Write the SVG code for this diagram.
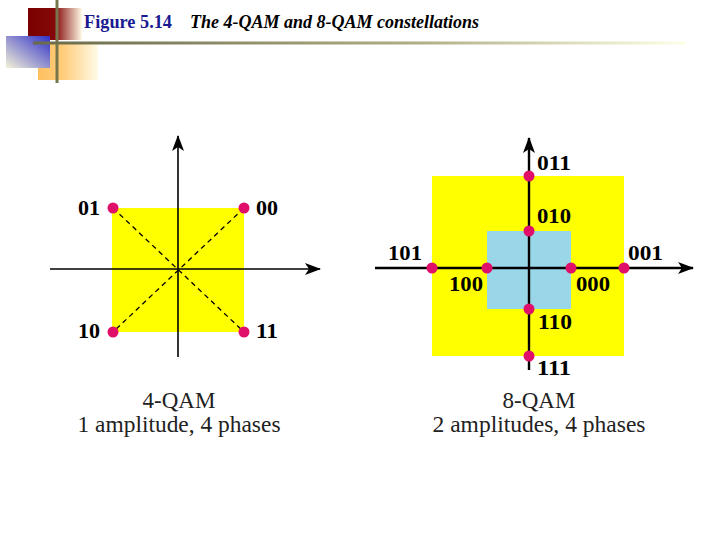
<svg xmlns="http://www.w3.org/2000/svg" width="720" height="540" viewBox="0 0 720 540">
<defs>
<linearGradient id="gRed" x1="0" y1="0" x2="1" y2="0">
<stop offset="0" stop-color="#7A0000"/><stop offset="0.5" stop-color="#840808"/><stop offset="1" stop-color="#FFFBE6"/>
</linearGradient>
<linearGradient id="gBlue" x1="0" y1="1" x2="1" y2="0">
<stop offset="0" stop-color="#F4F2D8"/><stop offset="1" stop-color="#3030C8"/>
</linearGradient>
<linearGradient id="gOrange" x1="0" y1="0" x2="1" y2="0">
<stop offset="0" stop-color="#FFC060"/><stop offset="0.4" stop-color="#FFCC78"/><stop offset="1" stop-color="#FFFBE8"/>
</linearGradient>
<linearGradient id="gLine" x1="0" y1="0" x2="1" y2="0">
<stop offset="0" stop-color="#6A6A48"/><stop offset="0.6" stop-color="#B0B088"/><stop offset="1" stop-color="#FFFFE6"/>
</linearGradient>
<marker id="arr" viewBox="0 0 16 12" refX="15" refY="6" markerWidth="16" markerHeight="12" markerUnits="userSpaceOnUse" orient="auto">
<path d="M0,0 L16,6 L0,12 L4,6 Z" fill="#000"/>
</marker>
<style>
.ax{stroke:#000;stroke-width:1.6;fill:none}
.ax2{stroke:#000;stroke-width:2.4;fill:none}
.dash{stroke:#000;stroke-width:1.3;stroke-dasharray:5,4;fill:none}
.pt{fill:#E0106A}
.lbl{font-family:"Liberation Serif","Times New Roman",serif;font-weight:bold;font-size:21px;fill:#000}
.cap{font-family:"Liberation Serif","Times New Roman",serif;font-size:23px;fill:#222;text-anchor:middle}
.fig{font-family:"Liberation Serif","Times New Roman",serif;font-weight:bold;font-size:19px;fill:#1A1A90}
.ttl{font-family:"Liberation Serif","Times New Roman",serif;font-weight:bold;font-style:italic;font-size:19px;fill:#000}
</style>
</defs>
<rect width="720" height="540" fill="#fff"/>
<g id="header">
<rect x="28" y="8" width="54" height="32" fill="url(#gRed)"/>
<rect x="38" y="42" width="60" height="38" fill="url(#gOrange)"/>
<rect x="6" y="36" width="44" height="32" fill="url(#gBlue)"/>
<line x1="57" y1="0" x2="57" y2="83" stroke="#76764C" stroke-width="3"/>
<rect x="33" y="41.5" width="652" height="3" fill="url(#gLine)"/>
<text class="fig" x="84" y="28" textLength="88" lengthAdjust="spacingAndGlyphs">Figure 5.14</text>
<text class="ttl" x="190" y="28" textLength="289" lengthAdjust="spacingAndGlyphs">The 4-QAM and 8-QAM constellations</text>
</g>
<g id="qam4">
<rect x="112" y="208" width="132" height="124" fill="#FFFF00"/>
<g id="connectors4">
<line class="dash" x1="113" y1="208" x2="244" y2="332"/>
<line class="dash" x1="244" y1="208" x2="113" y2="332"/>
<line class="ax" x1="50" y1="269" x2="320" y2="269" marker-end="url(#arr)"/>
<line class="ax" x1="178" y1="357" x2="178" y2="136" marker-end="url(#arr)"/>
</g>
<g id="p01"><circle class="pt" cx="113" cy="208" r="5.5"/><text class="lbl" x="78" y="215" textLength="22" lengthAdjust="spacingAndGlyphs">01</text></g>
<g id="p00"><circle class="pt" cx="244" cy="208" r="5.5"/><text class="lbl" x="256" y="215" textLength="22" lengthAdjust="spacingAndGlyphs">00</text></g>
<g id="p10"><circle class="pt" cx="113" cy="332" r="5.5"/><text class="lbl" x="78" y="338" textLength="22" lengthAdjust="spacingAndGlyphs">10</text></g>
<g id="p11"><circle class="pt" cx="244" cy="332" r="5.5"/><text class="lbl" x="256" y="338" textLength="22" lengthAdjust="spacingAndGlyphs">11</text></g>
<text class="cap" x="179" y="408">4-QAM</text>
<text class="cap" x="179" y="432" textLength="203" lengthAdjust="spacingAndGlyphs">1 amplitude, 4 phases</text>
</g>
<g id="qam8">
<rect x="432" y="176" width="192" height="180" fill="#FFFF00"/>
<rect x="487" y="231" width="84" height="78" fill="#99D6E8"/>
<g id="connectors8">
<line class="ax2" x1="375" y1="268" x2="693" y2="268" marker-end="url(#arr)"/>
<line class="ax2" x1="529" y1="370" x2="529" y2="138" marker-end="url(#arr)"/>
</g>
<g id="p011"><circle class="pt" cx="529" cy="176" r="5.5"/><text class="lbl" x="537" y="170" textLength="34" lengthAdjust="spacingAndGlyphs">011</text></g>
<g id="p010"><circle class="pt" cx="529" cy="231" r="5.5"/><text class="lbl" x="537" y="223" textLength="34" lengthAdjust="spacingAndGlyphs">010</text></g>
<g id="p101"><circle class="pt" cx="432" cy="268" r="5.5"/><text class="lbl" x="388" y="260" textLength="34" lengthAdjust="spacingAndGlyphs">101</text></g>
<g id="p100"><circle class="pt" cx="487" cy="268" r="5.5"/><text class="lbl" x="449" y="291" textLength="34" lengthAdjust="spacingAndGlyphs">100</text></g>
<g id="p000"><circle class="pt" cx="571" cy="268" r="5.5"/><text class="lbl" x="576" y="291" textLength="34" lengthAdjust="spacingAndGlyphs">000</text></g>
<g id="p001"><circle class="pt" cx="624" cy="268" r="5.5"/><text class="lbl" x="628" y="260" textLength="35" lengthAdjust="spacingAndGlyphs">001</text></g>
<g id="p110"><circle class="pt" cx="529" cy="309" r="5.5"/><text class="lbl" x="538" y="329" textLength="34" lengthAdjust="spacingAndGlyphs">110</text></g>
<g id="p111"><circle class="pt" cx="529" cy="356" r="5.5"/><text class="lbl" x="537" y="375" textLength="34" lengthAdjust="spacingAndGlyphs">111</text></g>
<text class="cap" x="539" y="408">8-QAM</text>
<text class="cap" x="539" y="432" textLength="213" lengthAdjust="spacingAndGlyphs">2 amplitudes, 4 phases</text>
</g>
</svg>
